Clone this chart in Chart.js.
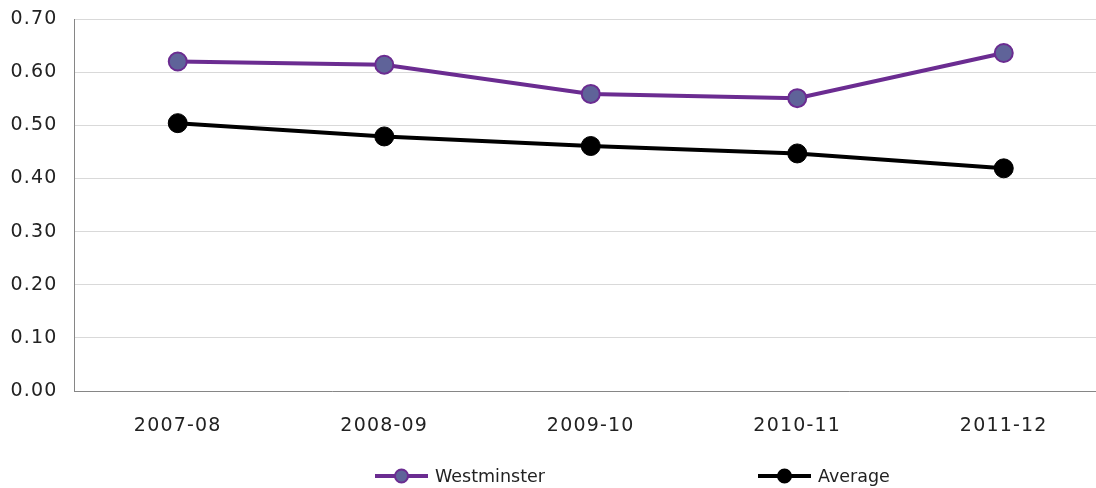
<!DOCTYPE html>
<html>
<head>
<meta charset="utf-8">
<script src="https://cdn.jsdelivr.net/npm/chart.js@4"></script>
<style>
  html, body { margin: 0; padding: 0; background: #fff; overflow: hidden; }
  canvas { display: block; }
</style>
</head>
<body>
<canvas id="myChart" width="1118" height="488"></canvas>
<script>
const years = ["2007-08", "2008-09", "2009-10", "2010-11", "2011-12"];
const westminster = [0.62, 0.614, 0.559, 0.551, 0.636];
const average = [0.504, 0.479, 0.461, 0.447, 0.419];
const yTicks = [0, 0.1, 0.2, 0.3, 0.4, 0.5, 0.6, 0.7];

const FONT = "'DejaVu Sans', Verdana, sans-serif";

// Excel spreads the axis digits out a bit more than DejaVu does
const tickSpacing = {
  id: "tickSpacing",
  beforeDraw(chart) { chart.ctx.letterSpacing = "1.2px"; },
  beforeDatasetsDraw(chart) { chart.ctx.letterSpacing = "0px"; },
};

// legend drawn by hand, Excel puts the two entries far apart
const wideLegend = {
  id: "wideLegend",
  afterDraw(chart) {
    const ctx = chart.ctx;
    const y = 476;
    const entries = [
      { x: 375, ds: chart.data.datasets[0] },
      { x: 758, ds: chart.data.datasets[1] },
    ];
    ctx.save();
    ctx.letterSpacing = "0px";
    entries.forEach((e) => {
      ctx.strokeStyle = e.ds.borderColor;
      ctx.lineWidth = 4;
      ctx.beginPath();
      ctx.moveTo(e.x, y);
      ctx.lineTo(e.x + 53, y);
      ctx.stroke();
      ctx.beginPath();
      ctx.arc(e.x + 26.5, y, 6.5, 0, Math.PI * 2);
      ctx.fillStyle = e.ds.pointBackgroundColor;
      ctx.fill();
      ctx.lineWidth = 2;
      ctx.strokeStyle = e.ds.pointBorderColor;
      ctx.stroke();
      ctx.fillStyle = "#222";
      ctx.font = "17.5px " + FONT;
      ctx.textBaseline = "middle";
      ctx.fillText(e.ds.label, e.x + 60, y + 1);
    });
    ctx.restore();
  },
};

function createChart() {
  const ctx = document.getElementById("myChart").getContext("2d");
  new Chart(ctx, {
    type: "line",
    data: {
      labels: years,
      datasets: [
        {
          label: "Westminster",
          data: westminster,
          borderColor: "#6B2C91",
          borderWidth: 4,
          pointRadius: 9,
          pointBorderWidth: 2,
          pointBackgroundColor: "#5F6399",
          pointBorderColor: "#6B2C91",
          tension: 0,
        },
        {
          label: "Average",
          data: average,
          borderColor: "#000000",
          borderWidth: 4,
          pointRadius: 9.5,
          pointBorderWidth: 1,
          pointBackgroundColor: "#000000",
          pointBorderColor: "#000000",
          tension: 0,
        },
      ],
    },
    options: {
      responsive: false,
      animation: false,
      layout: { padding: { top: 19, bottom: 37, left: 0, right: 5 } },
      plugins: {
        legend: { display: false },
        tooltip: { enabled: false },
      },
      scales: {
        x: {
          offset: true,
          grid: { display: false, drawTicks: false },
          border: { color: "#868686", width: 1 },
          ticks: { color: "#222", font: { family: FONT, size: 19 }, padding: 24 },
          afterFit(scale) {
            scale.height = 60;
            scale.paddingLeft = 0;
            scale.paddingRight = 0;
          },
        },
        y: {
          min: 0,
          max: 0.7,
          afterBuildTicks(scale) {
            scale.ticks = yTicks.map((v) => ({ value: v }));
          },
          afterFit(scale) {
            scale.width = 74.5;
            scale.paddingTop = 0;
            scale.paddingBottom = 0;
          },
          grid: { color: "#d9d9d9", drawTicks: false },
          border: { color: "#868686", width: 1 },
          ticks: {
            color: "#222",
            font: { family: FONT, size: 19 },
            padding: 17,
            callback: (v) => v.toFixed(2),
          },
        },
      },
    },
    plugins: [tickSpacing, wideLegend],
  });
}

createChart();
</script>
</body>
</html>
